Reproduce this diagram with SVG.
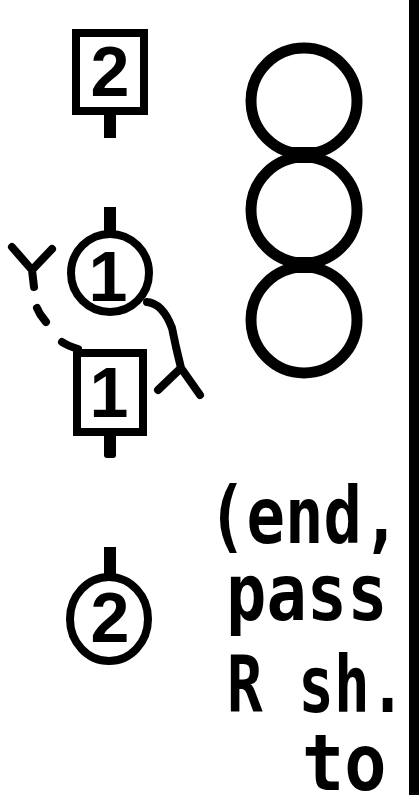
<svg xmlns="http://www.w3.org/2000/svg" width="419" height="795" viewBox="0 0 419 795">
<style>
.ol{fill:#fff;stroke:#000;stroke-width:8}
.big{fill:none;stroke:#000;stroke-width:11}
.stem{fill:#000}
.dig{font-family:"Liberation Sans",Arial,sans-serif;font-weight:bold;font-size:70px;fill:#000;text-anchor:middle}
.ln{fill:none;stroke:#000;stroke-width:8;stroke-linecap:round;stroke-linejoin:round}
.lbl{font-family:"DejaVu Sans Mono",monospace;font-weight:bold;font-size:78px;fill:#000}
</style>
<rect width="419" height="795" fill="#fff"/>
<g id="box2">
<rect class="stem" x="104" y="113" width="12" height="25"/>
<rect class="ol" x="76" y="33" width="68" height="78"/>
<text class="dig" x="110" y="96">2</text>
</g>
<g id="circle1">
<rect class="stem" x="104" y="207" width="12" height="30"/>
<circle class="ol" cx="110" cy="273" r="39"/>
<text class="dig" x="108" y="301">1</text>
</g>
<g id="box1">
<rect class="stem" x="104" y="430" width="12" height="28" rx="3"/>
<rect class="ol" x="77" y="353" width="66" height="79"/>
<text class="dig" x="109" y="417">1</text>
</g>
<g id="circle2">
<rect class="stem" x="104" y="547" width="12" height="32"/>
<ellipse class="ol" cx="109" cy="619" rx="39" ry="42"/>
<text class="dig" x="110" y="642">2</text>
</g>
<g id="stack">
<circle class="big" cx="304" cy="101" r="53"/>
<circle class="big" cx="304" cy="210" r="53"/>
<circle class="big" cx="304" cy="320" r="53"/>
<path class="stem" d="M280,147 L328,147 Q321,155 328,163 L280,163 Q287,155 280,147 Z"/>
<path class="stem" d="M280,257 L328,257 Q321,265 328,273 L280,273 Q287,265 280,257 Z"/>
</g>
<g id="note">
<text class="lbl" transform="translate(208,543) scale(0.82,1)">(end,</text>
<text class="lbl" transform="translate(226,620) scale(0.86,1)">pass</text>
<text class="lbl" transform="translate(227,712) scale(0.76,1)">R sh.</text>
<text class="lbl" transform="translate(302,790) scale(0.9,1)">to</text>
</g>
<g id="bar">
<rect x="409" y="0" width="10" height="795" fill="#000"/>
</g>
<g id="connectors">
<path class="ln" d="M12,247 L32,270 L34,287 M52,249 L32,270"/>
<path class="ln" d="M37,308 L40,314 L46,322"/>
<path class="ln" d="M62,342 Q68,346 78,349"/>
<path class="ln" d="M147,302 C158,303 166,312 172,328 L176,347 L181,368 M181,368 L158,390 M181,368 L200,395"/>
</g>
</svg>
